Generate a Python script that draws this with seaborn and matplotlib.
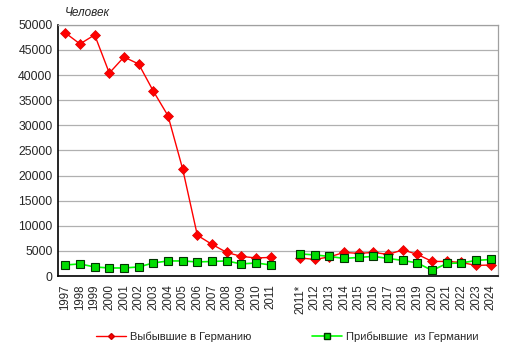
import numpy as np
import pandas as pd
import seaborn as sns
import matplotlib.pyplot as plt
from matplotlib.lines import Line2D

#%% data
years_a = ['1997', '1998', '1999', '2000', '2001', '2002', '2003', '2004',
           '2005', '2006', '2007', '2008', '2009', '2010', '2011']
years_b = ['2011*', '2012', '2013', '2014', '2015', '2016', '2017', '2018',
           '2019', '2020', '2021', '2022', '2023', '2024']

left_a = [48400, 46200, 48000, 40400, 43600, 42200, 36800, 31900,
          21300, 8100, 6300, 4700, 3900, 3600, 3700]
left_b = [3600, 3300, 3800, 4700, 4500, 4700, 4300, 5200,
          4300, 2900, 2900, 2700, 2100, 2200]

arrived_a = [2200, 2400, 1800, 1600, 1600, 1800, 2600, 3000,
             3000, 2800, 2900, 3000, 2400, 2600, 2200]
arrived_b = [4400, 4200, 3900, 3500, 3700, 3900, 3500, 3100,
             2600, 1100, 2500, 2600, 3100, 3300]

labels = years_a + [''] + years_b
pos_a = np.arange(len(years_a))
pos_b = np.arange(len(years_b)) + len(years_a) + 1

#%% plot
sns.set_style('white')
plt.rcParams['font.family'] = ['Liberation Sans', 'DejaVu Sans']

fig = plt.figure(figsize=(5.13, 3.55), dpi=100)
ax = fig.add_axes([0.113, 0.2225, 0.858, 0.7075])

red = '#ff0000'
green = '#00ff00'

for pos, vals in [(pos_a, left_a), (pos_b, left_b)]:
    sns.lineplot(x=pos, y=vals, ax=ax, color=red, lw=1, marker='D',
                 markersize=5.3, markerfacecolor=red, markeredgecolor='#dd0000',
                 markeredgewidth=0.5, zorder=3)
for pos, vals in [(pos_a, arrived_a), (pos_b, arrived_b)]:
    sns.lineplot(x=pos, y=vals, ax=ax, color=green, lw=1.2, marker='s',
                 markersize=5.2, markerfacecolor='#00dd00', markeredgecolor='#003300',
                 markeredgewidth=0.8, zorder=4)

ax.set_xlim(-0.5, len(labels) - 0.5)
ax.set_ylim(0, 50000)
ax.set_yticks(range(0, 50001, 5000))
ax.set_xticks(np.arange(len(labels)))
ax.set_xticklabels(labels, rotation=90, fontsize=8.3)
ax.tick_params(axis='y', labelsize=8.8, length=0, pad=4)
ax.tick_params(axis='x', length=0, pad=6)
ax.yaxis.grid(True, color='#b0b0b0', lw=0.9)
ax.set_axisbelow(True)

for s in ['left', 'bottom']:
    ax.spines[s].set_color('black')
    ax.spines[s].set_linewidth(1.2)
for s in ['top', 'right']:
    ax.spines[s].set_color('#a0a0a0')
    ax.spines[s].set_linewidth(0.9)

fig.text(0.127, 0.962, 'Человек', fontsize=8.5, style='italic', va='center')

handles = [
    Line2D([], [], color=red, lw=1, marker='D', markersize=3,
           markerfacecolor=red, markeredgecolor='#cc0000'),
    Line2D([], [], color=green, lw=1.2, marker='s', markersize=4,
           markerfacecolor='#00dd00', markeredgecolor='#003300'),
]
fig.legend(handles, ['Выбывшие в Германию', 'Прибывшие  из Германии'],
           loc='center', bbox_to_anchor=(0.56, 0.052), ncol=2, frameon=False,
           fontsize=8, handlelength=2.7, handletextpad=0.3, columnspacing=5.5)

fig.savefig('out.png', dpi=100)
